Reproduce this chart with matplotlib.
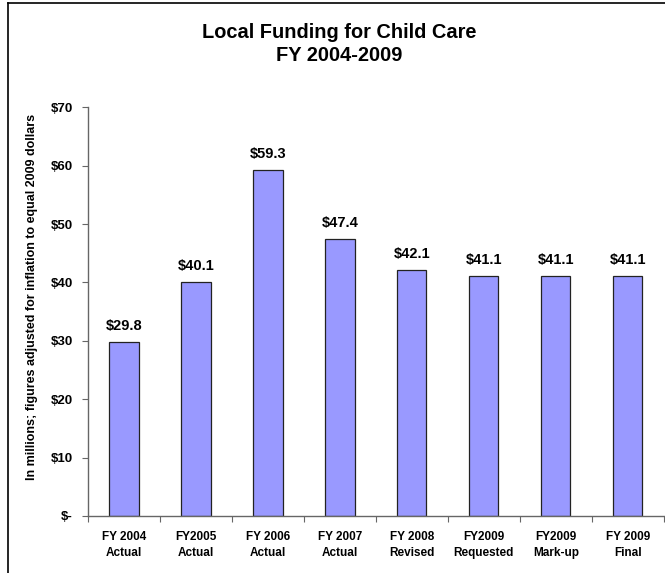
import matplotlib.pyplot as plt
from matplotlib.lines import Line2D
import numpy as np

plt.rcParams['font.family'] = ['Liberation Sans', 'DejaVu Sans']

# Data for the chart
categories = ['FY 2004\nActual', 'FY2005\nActual', 'FY 2006\nActual', 'FY 2007\nActual',
              'FY 2008\nRevised', 'FY2009\nRequested', 'FY2009\nMark-up', 'FY 2009\nFinal']
values = [29.8, 40.1, 59.3, 47.4, 42.1, 41.1, 41.1, 41.1]
yticks = [0, 10, 20, 30, 40, 50, 60, 70]
ytick_labels = ['$-', '$10', '$20', '$30', '$40', '$50', '$60', '$70']

fig = plt.figure(figsize=(6.65, 5.73), dpi=100)
ax = fig.add_axes([0.1323, 0.0995, 0.866, 0.7133])

x = np.arange(len(values))
ax.bar(x, values, width=0.405, color='#9999FF', edgecolor='#222222', linewidth=0.9)

# value labels above bars
for xi, v in zip(x, values):
    ax.text(xi, v + 1.5, f'${v:.1f}', ha='center', va='bottom',
            fontsize=10.5, fontweight='bold')

ax.set_xlim(-0.5, len(values) - 0.5)
ax.set_ylim(0, 70)
ax.set_yticks(yticks)
ax.set_yticklabels(ytick_labels, fontsize=9.5, fontweight='bold')
ax.set_xticks(x)
ax.set_xticklabels(categories, fontsize=8.5, fontweight='bold', linespacing=1.4)
ax.tick_params(axis='x', length=0, pad=11)
ax.tick_params(axis='y', length=4, width=0.8, color='#666666', pad=7)

# category boundary ticks
ax.set_xticks(np.arange(len(values) + 1) - 0.5, minor=True)
ax.tick_params(axis='x', which='minor', length=4, width=0.8, color='#666666')

for s in ['top', 'right']:
    ax.spines[s].set_visible(False)
for s in ['left', 'bottom']:
    ax.spines[s].set_color('#666666')
    ax.spines[s].set_linewidth(1.0)

ax.set_ylabel('In millions; figures adjusted for inflation to equal 2009 dollars',
              fontsize=9, fontweight='bold')
ax.yaxis.set_label_coords(-0.086, 0.535)

fig.text(0.51, 0.923, 'Local Funding for Child Care\nFY 2004-2009', ha='center', va='center',
         fontsize=14.4, fontweight='bold', linespacing=1.25)

# outer frame (left and top edges visible)
fig.add_artist(Line2D([0.012, 0.012], [0, 0.995], transform=fig.transFigure, color='black', lw=1.2))
fig.add_artist(Line2D([0.012, 1.0], [0.995, 0.995], transform=fig.transFigure, color='black', lw=1.2))

fig.savefig('out.png', dpi=100)
